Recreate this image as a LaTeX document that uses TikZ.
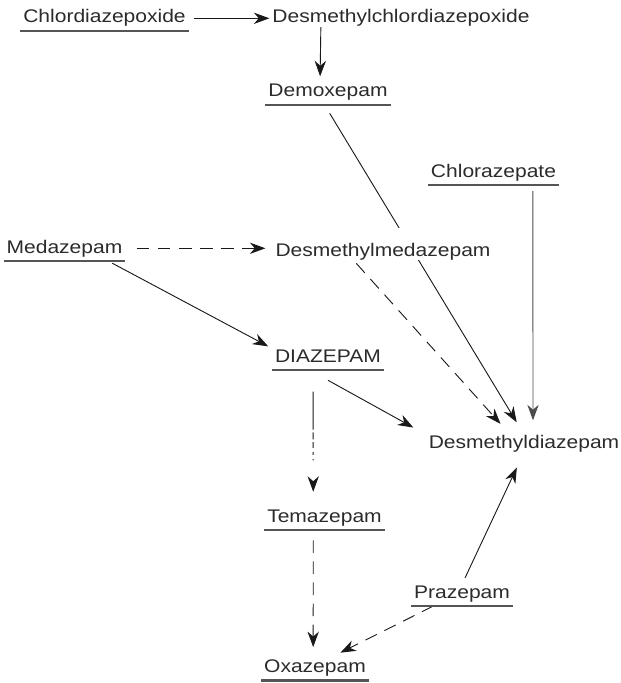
\documentclass[tikz,border=0pt]{standalone}
\usepackage{fontspec}
\setmainfont{Liberation Sans}[FakeStretch=1.15]
\usetikzlibrary{arrows.meta,backgrounds}
\tikzset{>={Stealth[length=11pt,width=8pt,inset=3.5pt]}}
\definecolor{inkgray}{HTML}{2B2B2B}
\definecolor{rulegray}{HTML}{555555}
\newcommand{\drugfont}{\fontsize{13}{15}\selectfont}

\begin{document}
\begin{tikzpicture}[x=0.025cm,y=-0.025cm,
    drug/.style={font=\drugfont,text=inkgray,inner xsep=2pt,inner ysep=0pt,
        text height=9.5pt,text depth=2.8pt,anchor=base},
    uline/.style={drug,append after command={
        ([yshift=-3pt]\tikzlastnode.south west) edge[draw=rulegray,line width=1.5pt]
        ([yshift=-3pt]\tikzlastnode.south east)}},
    link/.style={line width=0.65pt,draw=black!90,->},
    dashedlink/.style={link,dash pattern=on 9pt off 6pt},
    brokenlink/.style={link,dash pattern=on 27pt off 2pt on 5pt off 2pt on 4pt off 3pt on 2pt off 3pt on 1pt off 20pt}]
    \useasboundingbox (0,0) rectangle (620,683);
    % compounds
    \node[uline] (chlordiaz) at (104.5,23) {Chlordiazepoxide};
    \node[drug] (desmchlor) at (401,23) {Desmethylchlordiazepoxide};
    \node[uline] (demox) at (328,97) {Demoxepam};
    \node[uline] (chlz) at (493.5,177) {Chlorazepate};
    \node[uline] (medaz) at (64.5,253) {Medazepam};
    \node[drug,fill=white,text height=20pt] (desmmed) at (383,256) {Desmethylmedazepam};
    \node[uline] (diaz) at (328,362) {DIAZEPAM};
    \node[drug] (desmdiaz) at (524,448) {Desmethyldiazepam};
    \node[uline] (tema) at (324.5,522) {Temazepam};
    \node[uline] (praz) at (462,598) {Prazepam};
    \node[uline] (oxaz) at (315,672) {Oxazepam};
    % pathways
    \begin{scope}[on background layer]
    \draw[link,shorten <=4pt] (chlordiaz.east) -- (desmchlor.west);
    \draw[link,shorten >=5pt] ([xshift=-57pt]desmchlor.south) -- ([xshift=-5.7pt]demox.north);
    \draw[link,shorten <=10pt,shorten >=10pt] ([xshift=-4pt]demox.south) -- (desmdiaz.north);
    \draw[dashedlink,shorten <=8pt,shorten >=5pt] (medaz.east) -- (medaz.east -| desmmed.west);
    \draw[link,shorten <=9pt,shorten >=3pt] ([xshift=26pt]medaz.south) -- (diaz.north west);
    \draw[dashedlink,shorten <=3pt,shorten >=10pt] ([xshift=-21pt]desmmed.south) -- ([xshift=-10pt]desmdiaz.north);
    \draw[link,draw=black!70,shorten <=7pt,shorten >=10pt] ([xshift=28pt]chlz.south) -- ([xshift=6.4pt]desmdiaz.north);
    \draw[link,shorten >=10pt] ([yshift=-10pt]diaz.south) -- (desmdiaz.north west);
    \draw[brokenlink,shorten <=18pt,shorten >=11.8pt] ([xshift=-10.6pt]diaz.south) -- ([xshift=-8pt]tema.north);
    \draw[dashedlink,shorten <=10pt,shorten >=8pt] ([xshift=-8pt]tema.south) -- ([xshift=-1.3pt]oxaz.north);
    \draw[link,shorten <=5pt,shorten >=12pt] (praz.north) -- (desmdiaz.south);
    \draw[dashedlink,shorten <=6pt,shorten >=9pt] ([xshift=-15pt]praz.south) -- ([xshift=10pt]oxaz.north);
    \end{scope}
\end{tikzpicture}
\end{document}
